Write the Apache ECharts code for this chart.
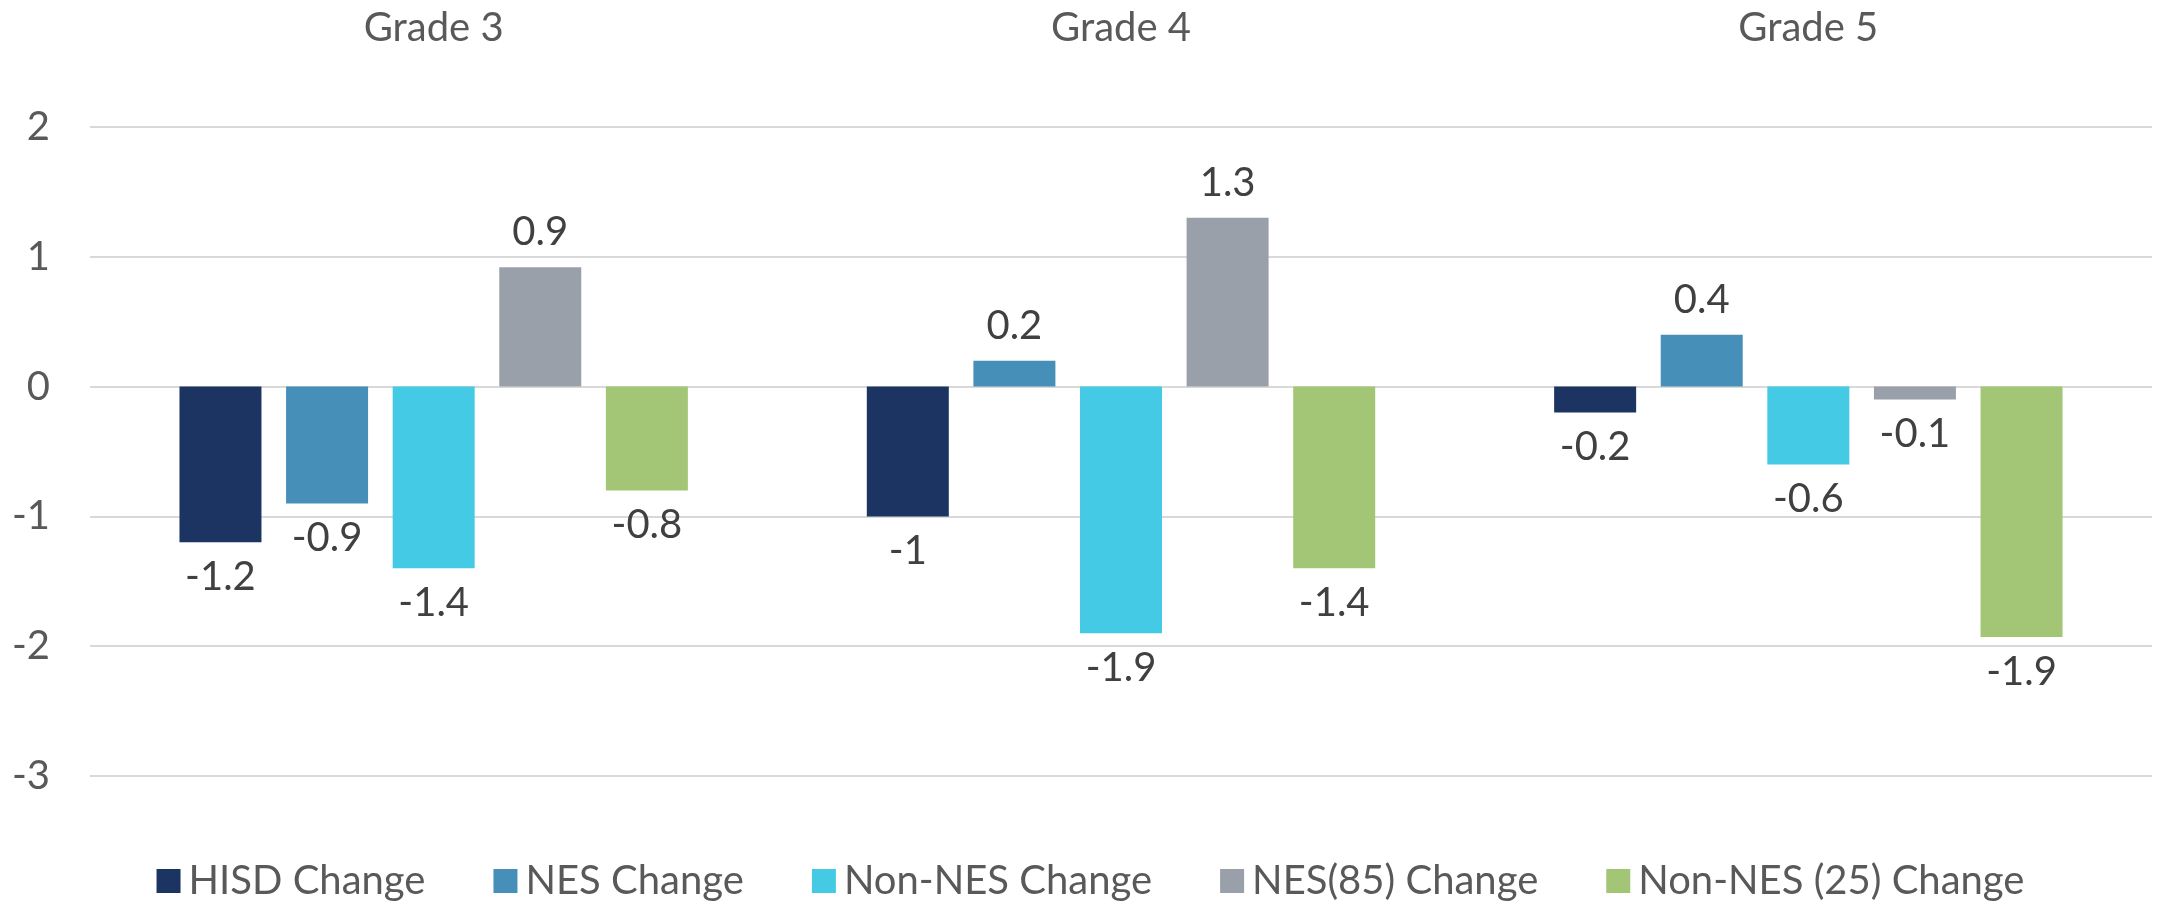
<!DOCTYPE html>
<html>
<head>
<meta charset="utf-8">
<title>Grade change</title>
<script src="https://cdn.jsdelivr.net/npm/echarts@6/dist/echarts.min.js"></script>
<style>
  html, body { margin: 0; padding: 0; background: #fff; }
  #chart { width: 2181px; height: 903px; }
</style>
</head>
<body>
<div id="chart"></div>
<script>
// data
var grades = ['Grade 3', 'Grade 4', 'Grade 5'];
var seriesNames = ['HISD Change', 'NES Change', 'Non-NES Change', 'NES(85) Change', 'Non-NES (25) Change'];
var hisdChange = [-1.2, -1.0, -0.2];
var nesChange = [-0.9, 0.2, 0.4];
var nonNesChange = [-1.4, -1.9, -0.6];
var nes85Change = [0.92, 1.3, -0.1];
var nonNes25Change = [-0.8, -1.4, -1.93];
var yTicks = { min: -3, max: 2, step: 1 };

var colors = ['#1b3461', '#468fb8', '#45cae6', '#99a0a9', '#a2c675'];
var font = 'Lato';
var fontSize = 40;

function fmt(p) {
    return String(Math.round(p.value * 10) / 10);
}

var allValues = [hisdChange, nesChange, nonNesChange, nes85Change, nonNes25Change];
var series = [];
for (var i = 0; i < allValues.length; i++) {
    series.push({
        name: seriesNames[i],
        type: 'bar',
        barWidth: 82,
        barGap: '30%',
        itemStyle: { color: colors[i] },
        label: {
            show: true,
            position: 'outside',
            distance: 15,
            formatter: fmt,
            fontFamily: font,
            fontSize: fontSize,
            color: '#404040'
        },
        data: allValues[i]
    });
}

var option = {
    animation: false,
    textStyle: { fontFamily: font },
    grid: { left: 90, right: 29, top: 127, bottom: 127, containLabel: false },
    legend: {
        data: seriesNames,
        top: 856,
        left: 'center',
        icon: 'rect',
        itemWidth: 24,
        itemHeight: 24,
        itemGap: 68,
        textStyle: { fontFamily: font, fontSize: fontSize, color: '#595959', padding: [0, 0, 0, 3] }
    },
    xAxis: {
        type: 'category',
        position: 'top',
        data: grades,
        axisLine: { show: false },
        axisTick: { show: false },
        axisLabel: { margin: 79, fontFamily: font, fontSize: fontSize, color: '#595959' }
    },
    yAxis: {
        type: 'value',
        min: yTicks.min,
        max: yTicks.max,
        interval: yTicks.step,
        axisLine: { show: false },
        axisTick: { show: false },
        axisLabel: { margin: 40, fontFamily: font, fontSize: fontSize, color: '#595959' },
        splitLine: { lineStyle: { color: '#d9d9d9', width: 2 } }
    },
    series: series
};

var chart = echarts.init(document.getElementById('chart'));
chart.setOption(option);
</script>
</body>
</html>
